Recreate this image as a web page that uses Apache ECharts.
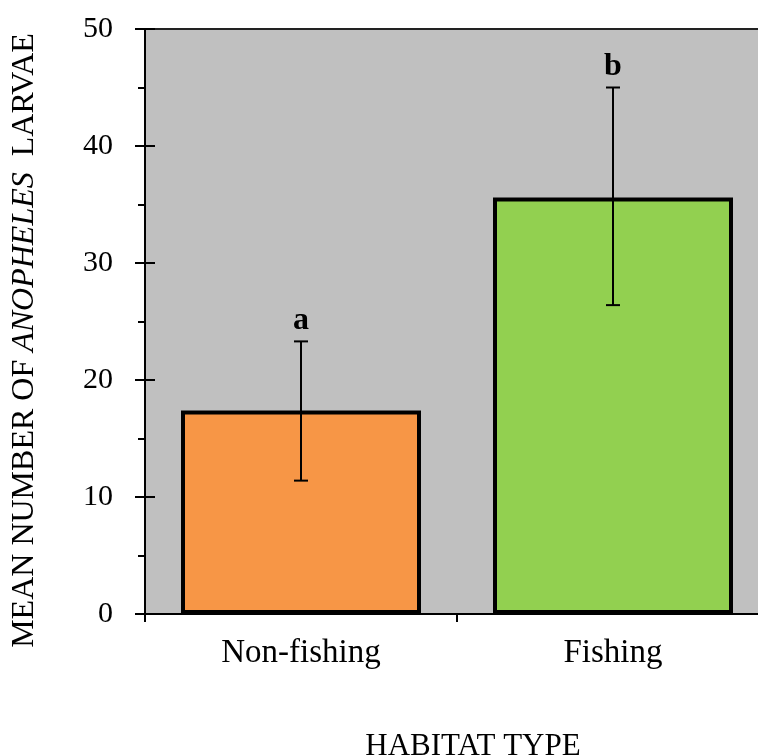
<!DOCTYPE html>
<html>
<head>
<meta charset="utf-8">
<script src="https://cdn.jsdelivr.net/npm/echarts@6/dist/echarts.min.js"></script>
<style>html,body{margin:0;padding:0;background:#fff;overflow:hidden}#c{width:758px;height:756px}</style>
</head>
<body>
<div id="c"></div>
<script>
var categories = ['Non-fishing', 'Fishing'];
var means = [17.4, 35.6];
var errLow = [11.4, 26.4];
var errHigh = [23.3, 45.0];
var letters = ['a', 'b'];
var barColors = ['#F79646', '#92D050'];
var yTicks = [0, 10, 20, 30, 40, 50];

var FONT = '"Liberation Serif", "Times New Roman", serif';
var chart = echarts.init(document.getElementById('c'), null, {renderer: 'canvas'});

var errData = categories.map(function (c, i) { return [i, errLow[i], errHigh[i], letters[i]]; });

chart.setOption({
  animation: false,
  grid: {left: 145, top: 29, right: -11, bottom: 142, outerBoundsMode: 'none', containLabel: false,
         show: true, backgroundColor: '#C0C0C0', borderColor: '#222', borderWidth: 2},
  xAxis: {
    type: 'category', data: categories,
    axisLine: {lineStyle: {color: '#000', width: 2}},
    axisTick: {show: true, length: 8, lineStyle: {color: '#000', width: 2}},
    axisLabel: {color: '#000', fontFamily: FONT, fontSize: 33, margin: 23},
    name: 'HABITAT TYPE', nameLocation: 'middle', nameGap: 117,
    nameTextStyle: {color: '#000', fontFamily: FONT, fontSize: 31, padding: [0, 0, 0, 32]}
  },
  yAxis: [{
    type: 'value', min: yTicks[0], max: yTicks[yTicks.length - 1], interval: 10,
    axisLine: {show: true, lineStyle: {color: '#000', width: 2}},
    axisTick: {show: true, length: 10, lineStyle: {color: '#000', width: 2}},
    minorTick: {show: true, splitNumber: 2, length: 7, lineStyle: {color: '#000', width: 2}},
    splitLine: {show: false},
    axisLabel: {color: '#000', fontFamily: FONT, fontSize: 30, margin: 32},
    name: '{n|MEAN NUMBER OF }{i|ANOPHELES}{n|  LARVAE}',
    nameLocation: 'middle', nameRotate: 90, nameGap: 104,
    nameTextStyle: {padding: [0, 38, 0, 0], rich: {
      n: {color: '#000', fontFamily: FONT, fontSize: 32},
      i: {color: '#000', fontFamily: FONT, fontSize: 32, fontStyle: 'italic'}
    }}
  }, {
    type: 'value', min: yTicks[0], max: yTicks[yTicks.length - 1], interval: 10, position: 'left',
    axisLine: {show: false}, axisLabel: {show: false}, splitLine: {show: false},
    axisTick: {show: true, inside: true, length: 10, lineStyle: {color: '#000', width: 2}}
  }],
  series: [{
    type: 'bar', barWidth: 240,
    data: means.map(function (v, i) {
      return {value: v, itemStyle: {color: barColors[i], borderColor: '#000', borderWidth: 4}};
    })
  }, {
    type: 'custom', data: errData, z: 10,
    renderItem: function (params, api) {
      var x = api.value(0);
      var lo = api.coord([x, api.value(1)]);
      var hi = api.coord([x, api.value(2)]);
      var st = {stroke: '#000', lineWidth: 2};
      return {type: 'group', children: [
        {type: 'line', shape: {x1: lo[0], y1: lo[1], x2: hi[0], y2: hi[1]}, style: st},
        {type: 'line', shape: {x1: lo[0] - 7, y1: lo[1], x2: lo[0] + 7, y2: lo[1]}, style: st},
        {type: 'line', shape: {x1: hi[0] - 7, y1: hi[1], x2: hi[0] + 7, y2: hi[1]}, style: st},
        {type: 'text', x: hi[0], y: hi[1] - 5, style: {text: api.value(3), fill: '#000', font: 'bold 32px ' + FONT, align: 'center', verticalAlign: 'bottom'}}
      ]};
    }
  }]
});
</script>
</body>
</html>
